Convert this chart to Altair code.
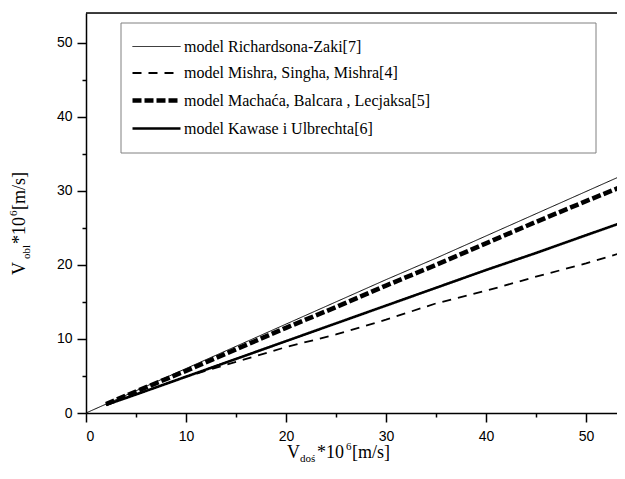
import altair as alt
import pandas as pd

models = [
    "model Richardsona-Zaki[7]",
    "model Mishra, Singha, Mishra[4]",
    "model Machaća, Balcara , Lecjaksa[5]",
    "model Kawase i Ulbrechta[6]",
]
x_rz = [0, 2, 5, 10, 15, 20, 25, 30, 35, 40, 45, 50, 54]
y_rz = [0, 1.2, 3.0, 6.0, 9.0, 12.0, 15.0, 18.0, 20.9, 23.9, 26.9, 29.9, 32.3]
x_common = [2, 5, 10, 15, 20, 25, 30, 35, 40, 45, 50, 54]
y_mishra = [1.1, 2.5, 4.9, 6.9, 8.9, 10.6, 12.6, 14.8, 16.5, 18.4, 20.2, 21.8]
y_machaca = [1.2, 2.9, 5.7, 8.6, 11.5, 14.3, 17.2, 20.0, 22.9, 25.8, 28.6, 30.8]
y_kawase = [1.1, 2.5, 4.9, 7.3, 9.7, 12.1, 14.5, 16.9, 19.3, 21.6, 24.0, 25.9]

dash_range = [[1, 0], [9, 7], [9, 3], [1, 0]]
width_range = [1.0, 1.8, 4.6, 2.6]
tick_values = list(range(0, 55, 5))

rows = []
for xv, yv in zip(x_rz, y_rz):
    rows.append({"model": models[0], "x": xv, "y": yv})
for name, ys in zip(models[1:], [y_mishra, y_machaca, y_kawase]):
    for xv, yv in zip(x_common, ys):
        rows.append({"model": name, "x": xv, "y": yv})
df = pd.DataFrame(rows)

W, H = 531, 400
SANS = "Liberation Sans"
SERIF = "Liberation Serif"

axis_common = dict(
    values=tick_values,
    labelExpr="datum.value % 10 === 0 ? datum.label : ''",
    tickSize={"condition": {"test": "datum.value % 10 !== 0", "value": 4}, "value": 9},
    tickColor="black",
    tickWidth=1.5,
    domainColor="black",
    domainWidth=1.5,
    labelFont=SANS,
    labelFontSize=14,
    labelColor="black",
    grid=False,
    title=None,
)

legend = alt.Legend(title=None, orient="none", legendX=60, legendY=25)

box = alt.Chart(pd.DataFrame({"a": [0]})).mark_rect(
    fill="white", stroke="#808080", strokeWidth=1
).encode(x=alt.value(35), x2=alt.value(510), y=alt.value(10), y2=alt.value(140))

lines = alt.Chart(df).mark_line(clip=True, color="black").encode(
    x=alt.X("x:Q", scale=alt.Scale(domain=[0, 53.1], nice=False, zero=True),
            axis=alt.Axis(labelPadding=7, **axis_common)),
    y=alt.Y("y:Q", scale=alt.Scale(domain=[0, 54], nice=False),
            axis=alt.Axis(labelPadding=5, **axis_common)),
    strokeDash=alt.StrokeDash("model:N", sort=models,
                              scale=alt.Scale(domain=models, range=dash_range),
                              legend=legend),
    strokeWidth=alt.StrokeWidth("model:N", sort=models,
                                scale=alt.Scale(type="ordinal", domain=models,
                                                range=width_range),
                                legend=legend),
    order=alt.Order("x:Q"),
)

top_border = alt.Chart(pd.DataFrame({"a": [0]})).mark_rule(
    color="black", strokeWidth=1.5
).encode(y=alt.value(0), x=alt.value(0), x2=alt.value(W))


def piece(text, x, y, size, angle=0):
    return alt.Chart(pd.DataFrame({"t": [text]})).mark_text(
        font=SERIF, fontSize=size, color="black", align="left",
        baseline="alphabetic", angle=angle
    ).encode(text="t:N", x=alt.value(x), y=alt.value(y))


x_title = [
    piece("V", 201, 445, 18),
    piece("doś", 214, 449, 11),
    piece("*10", 231, 445, 18),
    piece("6", 260, 437, 11),
    piece("[m/s]", 266, 445, 18),
]
y_title = [
    piece("V", -61, 262, 18, 270),
    piece("obl", -56, 246, 11, 270),
    piece("*10", -61, 231, 18, 270),
    piece("6", -69, 203, 11, 270),
    piece("[m/s]", -61, 197, 18, 270),
]

chart = alt.layer(box, lines, top_border, *x_title, *y_title).properties(
    width=W,
    height=H,
    autosize=alt.AutoSizeParams(type="none"),
    padding={"left": 78, "top": 5, "right": 0, "bottom": 53},
).configure_view(stroke=None).configure(background="white").configure_legend(
    orient="none",
    padding=0,
    symbolType="M-3,0H3",
    symbolSize=256,
    symbolStrokeColor="black",
    symbolFillColor="transparent",
    labelFont=SERIF,
    labelFontSize=16,
    labelColor="black",
    labelOffset=17,
    rowPadding=9,
    labelLimit=0,
)

chart.save("out.html", embed_options={"renderer": "svg", "actions": False})
